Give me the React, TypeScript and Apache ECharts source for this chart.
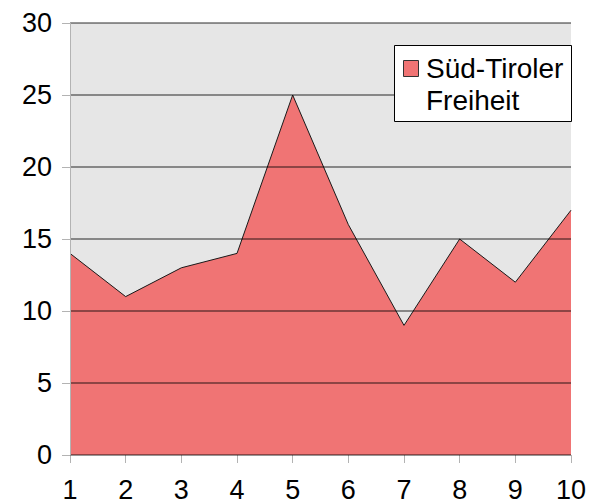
import React, { useEffect, useRef } from "react";
import * as echarts from "echarts";

const categories = ["1", "2", "3", "4", "5", "6", "7", "8", "9", "10"];
const values = [14, 11, 13, 14, 25, 16, 9, 15, 12, 17];
const seriesName = "Süd-Tiroler\nFreiheit";
const yTicks = { min: 0, max: 30, interval: 5 };

const FONT = "'Liberation Sans', Arial, sans-serif";
const FS = 27;

export default function App() {
  const ref = useRef<HTMLDivElement>(null);
  useEffect(() => {
    if (!ref.current) return;
    const chart = echarts.init(ref.current, null, { renderer: "svg" });
    chart.setOption({
      animation: false,
      backgroundColor: "#ffffff",
      grid: {
        left: 70,
        right: 23,
        top: 23,
        bottom: 49,
        show: true,
        backgroundColor: "#e6e6e6",
        borderWidth: 0,
      },
      xAxis: {
        type: "category",
        data: categories,
        boundaryGap: false,
        axisLine: { show: false },
        axisTick: { show: true, length: 8, inside: false, lineStyle: { color: "#b3b3b3" } },
        axisLabel: { margin: 21, fontSize: FS, color: "#000", fontFamily: FONT },
        splitLine: { show: false },
      },
      yAxis: {
        type: "value",
        min: yTicks.min,
        max: yTicks.max,
        interval: yTicks.interval,
        z: 10,
        axisLine: { show: true, lineStyle: { color: "#b3b3b3" } },
        axisTick: { show: true, length: 8, lineStyle: { color: "#b3b3b3" } },
        axisLabel: { margin: 18, fontSize: FS, color: "#000", fontFamily: FONT },
        splitLine: { show: true, lineStyle: { color: "rgba(0,0,0,0.55)", width: 1.5 } },
      },
      series: [
        {
          type: "line",
          name: seriesName,
          data: values,
          symbol: "none",
          lineStyle: { color: "#1a1a1a", width: 1 },
          areaStyle: { color: "#f07474", opacity: 1 },
          z: 2,
        },
      ],
      graphic: [
        {
          type: "rect",
          shape: { x: 394.5, y: 45.5, width: 177, height: 76 },
          style: { fill: "#ffffff", stroke: "#000000", lineWidth: 1 },
          z: 100,
        },
        {
          type: "rect",
          shape: { x: 403.5, y: 60.5, width: 15, height: 16 },
          style: { fill: "#f07474", stroke: "#333333", lineWidth: 1 },
          z: 101,
        },
        {
          type: "text",
          x: 426,
          y: 52,
          style: {
            text: seriesName,
            fontSize: 28,
            fontFamily: FONT,
            fill: "#000",
            lineHeight: 32,
          },
          z: 101,
        },
      ],
    });
    return () => chart.dispose();
  }, []);
  return <div ref={ref} style={{ width: 594, height: 504, position: "absolute", left: 0, top: 0 }} />;
}
